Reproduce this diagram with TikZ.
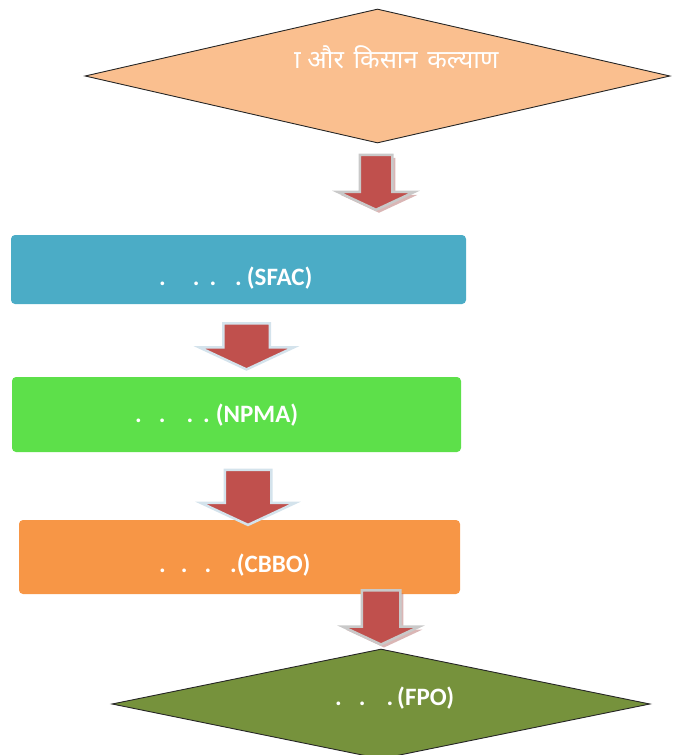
\documentclass[tikz,border=0pt]{standalone}
\usepackage{fontspec}
\setmainfont{Carlito}
\newfontfamily\devafont[Script=Devanagari]{Noto Sans}
\newfontfamily\devaraw{Noto Sans}
\usetikzlibrary{shapes.geometric,shapes.arrows,shadows}
\definecolor{peach}{HTML}{FABF8F}
\definecolor{sfacblue}{HTML}{4BACC6}
\definecolor{npmagreen}{HTML}{5DE04A}
\definecolor{cbboorange}{HTML}{F79646}
\definecolor{fpoolive}{HTML}{76923C}
\definecolor{arrowred}{HTML}{C0504D}
\definecolor{edgegray}{HTML}{C9C9C9}
\definecolor{edgeblue}{HTML}{D4E3EC}
\newcommand{\dotgap}[1]{\hspace{#1pt}}
\tikzset{
    stage/.style = {rounded corners=4pt, inner sep=0pt},
    rhomb/.style = {diamond, draw=black!85, line width=0.9pt, inner sep=0pt},
    downarrow/.style = {single arrow, shape border rotate=270,
                 single arrow tip angle=130, fill=arrowred, line width=2.5pt,
                 inner ysep=0pt},
    boxtext/.style = {text=white, inner sep=0pt, anchor=base west,
                 font=\bfseries\fontsize{25}{29}\selectfont},
}

\begin{document}
\begin{tikzpicture}[x=1pt,y=-1pt]
\useasboundingbox (0,0) rectangle (678,755);
\clip (0,0) rectangle (678,755);

\node (min)  [rhomb, fill=peach, minimum width=585, minimum height=134] at (377.5,76) {};
\node (mintxt) [text=white, inner sep=0pt, anchor=base west,
  font=\fontsize{25.5}{30}\selectfont] at (294,68) {{\devaraw ा}\devafont{} और\hspace{3pt} किसान\hspace{3pt} कल्याण};

\node (sfac) [stage, fill=sfacblue, minimum width=455, minimum height=69] at (238.5,269.5) {};
\node (sfactxt) [boxtext] at (159,285.5) {.\dotgap{27}.\dotgap{10}.\dotgap{19}.\dotgap{5}(SFAC)};

\node (npma) [stage, fill=npmagreen, minimum width=449, minimum height=75] at (236.5,414.5) {};
\node (npmatxt) [boxtext] at (135,422.5) {.\dotgap{17}.\dotgap{21}.\dotgap{10}.\dotgap{6}(NPMA)};

\node (cbbo) [stage, fill=cbboorange, minimum width=441, minimum height=74] at (239.5,557) {};
\node (cbbotxt) [boxtext] at (159,572.5) {.\dotgap{15}.\dotgap{17}.\dotgap{19}.(CBBO)};

\node (fpo)  [rhomb, fill=fpoolive, minimum width=538, minimum height=110] at (381,704) {};
\node (fpotxt) [boxtext] at (335,705.5) {.\dotgap{17}.\dotgap{21}.\dotgap{4}(FPO)};

\node (a1) [downarrow, draw=edgegray, inner xsep=15pt, single arrow head extend=22pt, minimum height=55,
  drop shadow={shadow xshift=3pt, shadow yshift=-3pt, opacity=0.45, fill=arrowred!70!gray}] at (376,178.5) {};
\node (a2) [downarrow, draw=edgeblue, inner xsep=22pt, single arrow head extend=24pt, minimum height=46] at (246.5,341) {};
\node (a3) [downarrow, draw=edgeblue, inner xsep=22pt, single arrow head extend=24pt, minimum height=55] at (248,492) {};
\node (a4) [downarrow, draw=edgegray, inner xsep=18pt, single arrow head extend=19pt, minimum height=54,
  drop shadow={shadow xshift=3pt, shadow yshift=-3pt, opacity=0.45, fill=arrowred!70!gray}] at (381,613) {};

\end{tikzpicture}
\end{document}
